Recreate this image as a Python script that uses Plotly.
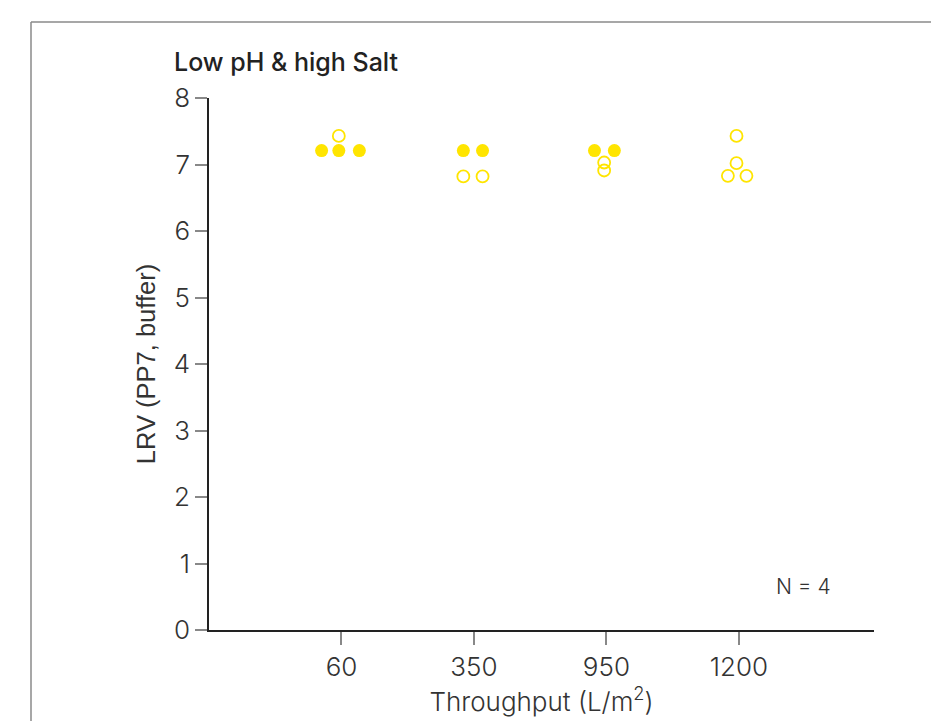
import plotly.graph_objects as go

# ---- data ----
categories = ["60", "350", "950", "1200"]
tick_positions = [1, 2, 3, 4]

filled_cat = ["60", "60", "60", "350", "350", "950", "950"]
filled_val = [7.21, 7.21, 7.21, 7.21, 7.21, 7.21, 7.21]
filled_jitter = [-0.15, -0.02, 0.135, -0.08, 0.065, -0.09, 0.06]

open_cat = ["60", "350", "350", "950", "950", "1200", "1200", "1200", "1200"]
open_val = [7.43, 6.82, 6.82, 7.03, 6.91, 7.43, 7.02, 6.83, 6.83]
open_jitter = [-0.02, -0.08, 0.065, -0.017, -0.017, -0.018, -0.018, -0.083, 0.057]

title_text = "Low pH & high Salt"
x_title = "Throughput (L/m<sup>2</sup>)"
y_title = "LRV (PP7, buffer)"
n_text = "N = 4"

YELLOW = "#FFE500"
pos = dict(zip(categories, tick_positions))

fx = [pos[c] + j for c, j in zip(filled_cat, filled_jitter)]
ox = [pos[c] + j for c, j in zip(open_cat, open_jitter)]

fig = go.Figure()
fig.add_trace(go.Scatter(
    x=fx, y=filled_val, mode="markers",
    marker=dict(symbol="circle", size=13, color=YELLOW, line=dict(width=0)),
    showlegend=False, cliponaxis=False,
))
fig.add_trace(go.Scatter(
    x=ox, y=open_val, mode="markers",
    marker=dict(symbol="circle-open", size=12, color=YELLOW, line=dict(width=1.8, color=YELLOW)),
    showlegend=False, cliponaxis=False,
))

# page body adds an 8px offset; work in reference pixel coords minus 8
OFF = 8
W, H = 939 - OFF, 721 - OFF
L, R, T, B = 209 - OFF, 65, 98 - OFF, 91
pw = W - L - R
ph = H - T - B

def px_to_paper_x(px):
    return (px - OFF - L) / pw

def px_to_paper_y(py):
    return (H - B - (py - OFF)) / ph

fig.update_layout(
    width=W, height=H,
    margin=dict(l=L, r=R, t=T, b=B, autoexpand=False),
    paper_bgcolor="white", plot_bgcolor="white",
    title=dict(text=title_text, xref="container", yref="container",
               x=(174 - OFF) / W, xanchor="left", y=1 - (62 - OFF) / H, yanchor="middle",
               font=dict(family="Inter", size=25, color="#222222", weight=500)),
    xaxis=dict(
        range=[0, 5.02], tickmode="array", tickvals=tick_positions, ticktext=categories,
        showgrid=False, zeroline=False, showline=True, linecolor="#222222", linewidth=1.5,
        ticks="outside", ticklen=13, tickcolor="#888888", tickwidth=1.5,
        tickfont=dict(family="Inter", size=26, color="#333333", weight=300),
        title=dict(text=x_title, font=dict(family="Inter", size=26, color="#333333", weight=300), standoff=3),
    ),
    yaxis=dict(
        range=[0, 8], tickmode="array", tickvals=list(range(0, 9)),
        showgrid=False, zeroline=False, showline=True, linecolor="#222222", linewidth=1.5,
        ticks="outside", ticklen=12, tickcolor="#888888", tickwidth=1.5,
        tickfont=dict(family="Inter", size=26, color="#333333", weight=300),
        title=dict(text=y_title, font=dict(family="Liberation Sans", size=25.5, color="#333333"), standoff=11),
    ),
    shapes=[
        dict(type="line", xref="paper", yref="paper",
             x0=px_to_paper_x(31), x1=px_to_paper_x(960), y0=px_to_paper_y(22), y1=px_to_paper_y(22),
             line=dict(color="#8a8a8a", width=1.5)),
        dict(type="line", xref="paper", yref="paper",
             x0=px_to_paper_x(31), x1=px_to_paper_x(31), y0=px_to_paper_y(22), y1=px_to_paper_y(740),
             line=dict(color="#8a8a8a", width=1.5)),
    ],
    annotations=[
        dict(text=n_text, xref="paper", yref="paper", x=px_to_paper_x(803), y=px_to_paper_y(586),
             xanchor="center", yanchor="middle", showarrow=False,
             font=dict(family="Inter", size=21, color="#333333", weight=300)),
    ],
)

fig.write_html("out.html")
